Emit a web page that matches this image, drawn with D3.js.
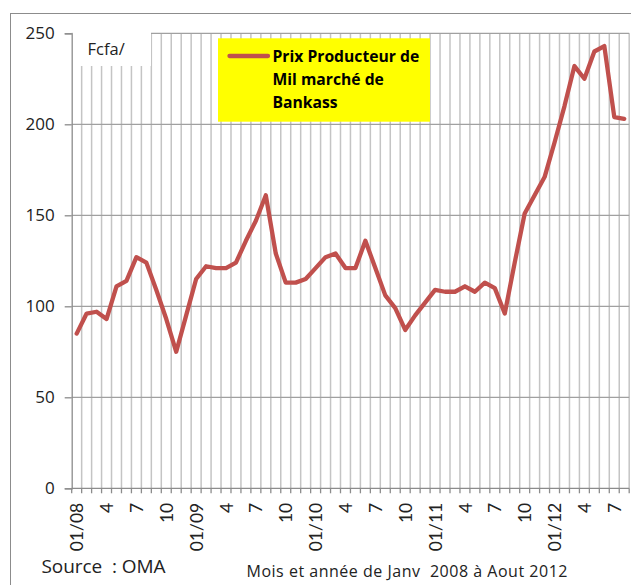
<!DOCTYPE html>
<html>
<head>
<meta charset="utf-8">
<script src="https://cdn.jsdelivr.net/npm/d3@7"></script>
<style>
  body { margin: 0; background: #fff; }
  svg { display: block; font-family: "Open Sans", Lato, sans-serif; }
</style>
</head>
<body>
<div id="chart"></div>
<script>
// Prix producteur du mil, marché de Bankass (Fcfa/kg), Janv 2008 - Aout 2012
const months = d3.range(56); // 0 = 01/2008 ... 55 = 08/2012
const prices = [
  85, 96, 97, 93, 111, 114, 127, 124, 109, 93, 75, 95,
  115, 122, 121, 121, 124, 136, 147, 161, 129, 113, 113, 115,
  121, 127, 129, 121, 121, 136, 121, 106, 99, 87, 95, 102,
  109, 108, 108, 111, 108, 113, 110, 96, 124, 151, 161, 171,
  190, 210, 232, 225, 240, 243, 204, 203
];
const yTicks = [0, 50, 100, 150, 200, 250];
const seriesName = ["Prix Producteur de", "Mil marché de", "Bankass"];
const unitLabel = "Fcfa/";
const sourceLabel = "Source  : OMA";
const xTitle = "Mois et année de Janv  2008 à Aout 2012";

function monthLabel(i) {
  const m = i % 12 + 1;
  const y = 8 + Math.floor(i / 12);
  return m === 1 ? "01/" + String(y).padStart(2, "0") : String(m);
}

const W = 631, H = 585;
const plot = {left: 71.7, right: 629.2, top: 33.3, bottom: 488.3};

const svg = d3.select("#chart").append("svg")
  .attr("width", W)
  .attr("height", H);

// outer chart border
svg.append("rect")
  .attr("x", 10.5).attr("y", 13.5)
  .attr("width", W).attr("height", H)
  .attr("fill", "#fff")
  .attr("stroke", "#8c8c8c")
  .attr("stroke-width", 1);

const x = d3.scaleBand()
  .domain(months)
  .range([plot.left, plot.right])
  .padding(0);

const y = d3.scaleLinear()
  .domain([0, 250])
  .range([plot.bottom, plot.top]);

// vertical gridlines at category boundaries
const boundaries = months.slice(1).map(i => x(i)).concat([plot.right]);
svg.append("g")
  .selectAll("line")
  .data(boundaries)
  .join("line")
  .attr("x1", d => d).attr("x2", d => d)
  .attr("y1", plot.top).attr("y2", plot.bottom)
  .attr("stroke", "#c4c4c4")
  .attr("stroke-width", 1.5);

// horizontal gridlines
svg.append("g")
  .selectAll("line")
  .data(yTicks.filter(d => d > 0))
  .join("line")
  .attr("x1", plot.left).attr("x2", plot.right)
  .attr("y1", d => y(d)).attr("y2", d => y(d))
  .attr("stroke", "#a0a0a0")
  .attr("stroke-width", 1.3);

// white patch behind the unit label
svg.append("rect")
  .attr("x", plot.left + 0.8).attr("y", plot.top - 1.5)
  .attr("width", 151 - plot.left - 0.8).attr("height", 66 - plot.top + 1.5)
  .attr("fill", "#fff");

svg.append("text")
  .attr("x", 87.5).attr("y", 55)
  .attr("font-size", 16.5)
  .attr("fill", "#222")
  .text(unitLabel);

// y axis
const yAxis = svg.append("g")
  .attr("transform", `translate(${plot.left},0)`)
  .call(d3.axisLeft(y).tickValues(yTicks).tickSize(7).tickPadding(10));
yAxis.select(".domain").attr("stroke", "#8c8c8c").attr("stroke-width", 1.3);
yAxis.selectAll(".tick line").attr("stroke", "#8c8c8c").attr("stroke-width", 1.3);
yAxis.selectAll(".tick text")
  .attr("font-size", 17)
  .attr("font-family", "'Open Sans', sans-serif")
  .attr("fill", "#222");

// x axis: baseline + ticks at boundaries
svg.append("line")
  .attr("x1", plot.left).attr("x2", plot.right)
  .attr("y1", plot.bottom).attr("y2", plot.bottom)
  .attr("stroke", "#8c8c8c").attr("stroke-width", 1.3);
svg.append("g")
  .selectAll("line")
  .data(months.map(i => x(i)).concat([plot.right]))
  .join("line")
  .attr("x1", d => d).attr("x2", d => d)
  .attr("y1", plot.bottom).attr("y2", plot.bottom + 5)
  .attr("stroke", "#8c8c8c").attr("stroke-width", 1.3);

svg.append("g")
  .selectAll("text")
  .data(months.filter(i => i % 3 === 0))
  .join("text")
  .attr("transform", i => `translate(${x(i) + x.bandwidth() / 2 + 0.5},${plot.bottom + 14.5}) rotate(-90)`)
  .attr("text-anchor", "end")
  .attr("dy", "0.35em")
  .attr("font-size", 17.5)
  .attr("font-family", "Lato, sans-serif")
  .attr("fill", "#222")
  .text(monthLabel);

// price line
const line = d3.line()
  .x((d, i) => x(months[i]) + x.bandwidth() / 2)
  .y(d => y(d));

svg.append("path")
  .datum(prices)
  .attr("d", line)
  .attr("fill", "none")
  .attr("stroke", "#c0504d")
  .attr("stroke-width", 4.3)
  .attr("stroke-linejoin", "round")
  .attr("stroke-linecap", "round");

// legend
const legend = svg.append("g");
legend.append("rect")
  .attr("x", 218).attr("y", 38.3)
  .attr("width", 212).attr("height", 83.4)
  .attr("fill", "#ffff00");
legend.append("line")
  .attr("x1", 229.5).attr("x2", 268)
  .attr("y1", 56).attr("y2", 56)
  .attr("stroke", "#c0504d")
  .attr("stroke-width", 4.3)
  .attr("stroke-linecap", "round");
legend.selectAll("text")
  .data(seriesName)
  .join("text")
  .attr("x", 272.5)
  .attr("y", (d, i) => 61.7 + i * 23.3)
  .attr("font-size", 15.7)
  .attr("font-weight", "bold")
  .attr("fill", "#000")
  .text(d => d);

// bottom texts
svg.append("text")
  .attr("x", 41.5).attr("y", 572.5)
  .attr("font-size", 19)
  .attr("fill", "#222")
  .style("white-space", "pre")
  .attr("textLength", 124)
  .attr("lengthAdjust", "spacing")
  .text(sourceLabel);

svg.append("text")
  .attr("x", 246.5).attr("y", 577.3)
  .attr("font-size", 16)
  .attr("fill", "#222")
  .style("white-space", "pre")
  .attr("textLength", 321)
  .attr("lengthAdjust", "spacing")
  .text(xTitle);
</script>
</body>
</html>
